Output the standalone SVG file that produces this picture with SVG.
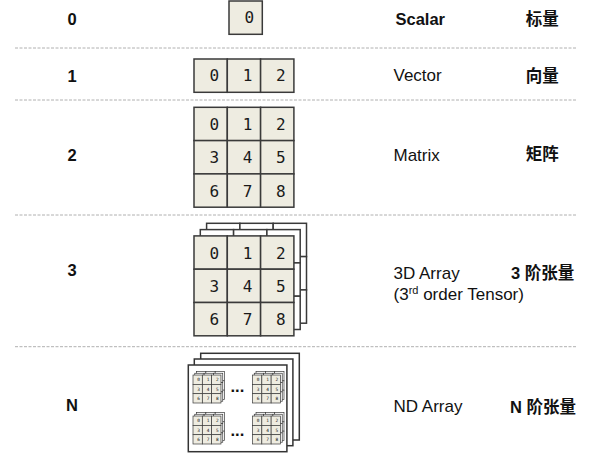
<svg xmlns="http://www.w3.org/2000/svg" xmlns:xlink="http://www.w3.org/1999/xlink" width="610" height="459" viewBox="0 0 610 459">
<style>
.bg{fill:#ffffff}
.cell{stroke:#3a3a3a}
.num{font-family:"DejaVu Sans Mono","Liberation Mono",monospace;font-size:16px;fill:#1a1a1a;text-anchor:middle}
.lbl{font-family:"Liberation Sans","Noto Sans CJK SC",sans-serif;font-size:17px;fill:#111}
.b{font-weight:bold;font-size:16.5px}
.rank{font-family:"Liberation Sans",sans-serif;font-size:16.5px;font-weight:bold;fill:#111;text-anchor:middle}
.sep{stroke:#b0b0b0;stroke-width:1;stroke-dasharray:3 1.5;fill:none}
.frame{fill:#fff;stroke:#333;stroke-width:1.5}
</style>
<defs>
<g id="row3">
<rect class="cell" x="0" y="0" width="33.3" height="33.3"/>
<rect class="cell" x="33.3" y="0" width="33.3" height="33.3"/>
<rect class="cell" x="66.6" y="0" width="33.3" height="33.3"/>
</g>
<g id="grid">
<use xlink:href="#row3" y="0"/>
<use xlink:href="#row3" y="33.3"/>
<use xlink:href="#row3" y="66.6"/>
</g>
<g id="digits9">
<text class="num" x="20.2" y="22.8">0</text>
<text class="num" x="53.5" y="22.8">1</text>
<text class="num" x="86.8" y="22.8">2</text>
<text class="num" x="20.2" y="56.1">3</text>
<text class="num" x="53.5" y="56.1">4</text>
<text class="num" x="86.8" y="56.1">5</text>
<text class="num" x="20.2" y="89.4">6</text>
<text class="num" x="53.5" y="89.4">7</text>
<text class="num" x="86.8" y="89.4">8</text>
</g>
<g id="t3">
<use xlink:href="#grid" x="12.6" y="0" fill="#ffffff"/>
<use xlink:href="#grid" x="6.3" y="6.3" fill="#ffffff"/>
<use xlink:href="#grid" x="0" y="12.6" fill="#EEECE1"/>
<use xlink:href="#digits9" x="0" y="12.6"/>
</g>
</defs>
<rect class="bg" x="0" y="0" width="610" height="459"/>

<g id="separators">
<line class="sep" x1="15" y1="48" x2="577" y2="48"/>
<line class="sep" x1="15" y1="100" x2="577" y2="100"/>
<line class="sep" x1="15" y1="215" x2="577" y2="215"/>
<line class="sep" x1="15" y1="346.7" x2="577" y2="346.7"/>
</g>

<g id="ranks">
<text class="rank" x="72" y="25">0</text>
<text class="rank" x="72" y="81.5">1</text>
<text class="rank" x="72" y="161">2</text>
<text class="rank" x="72" y="276">3</text>
<text class="rank" x="72" y="411">N</text>
</g>

<g id="scalar">
<rect class="cell" x="229" y="1" width="33.3" height="33.3" fill="#EEECE1" stroke-width="1.5"/>
<text class="num" x="249.2" y="23.3">0</text>
</g>

<g id="vector" stroke-width="1.5">
<use xlink:href="#row3" x="194" y="59" fill="#EEECE1"/>
<text class="num" x="214.2" y="81.3">0</text>
<text class="num" x="247.5" y="81.3">1</text>
<text class="num" x="280.8" y="81.3">2</text>
</g>

<g id="matrix" stroke-width="1.5">
<use xlink:href="#grid" x="194" y="107.3" fill="#EEECE1"/>
<use xlink:href="#digits9" x="194" y="107.3"/>
</g>

<g id="array3d" stroke-width="1.5">
<use xlink:href="#t3" transform="translate(194,223.3)"/>
</g>

<g id="arrayNd">
<rect class="frame" x="200.7" y="353.3" width="98.6" height="86.7"/>
<rect class="frame" x="194.3" y="359" width="98.6" height="86.7"/>
<rect class="frame" x="188.3" y="365" width="98.6" height="86.7"/>
<g stroke-width="2.5">
<use xlink:href="#t3" transform="translate(193,371.5) scale(0.28)"/>
<use xlink:href="#t3" transform="translate(252.5,371.5) scale(0.28)"/>
<use xlink:href="#t3" transform="translate(193,412.5) scale(0.28)"/>
<use xlink:href="#t3" transform="translate(252.5,412.5) scale(0.28)"/>
</g>
<text class="lbl b" x="230.5" y="392">...</text>
<text class="lbl b" x="230.5" y="435.5">...</text>
</g>

<g id="names">
<text class="lbl b" x="395.5" y="25">Scalar</text>
<text class="lbl" x="393.5" y="81.3">Vector</text>
<text class="lbl" x="393.5" y="160.5">Matrix</text>
<text class="lbl" x="393.5" y="279">3D Array</text>
<text class="lbl" x="393.5" y="300">(3<tspan font-size="11" dy="-6">rd</tspan><tspan dy="6"> order Tensor)</tspan></text>
<text class="lbl" x="393.5" y="411.5">ND Array</text>
</g>

<g id="chinese">
<text class="lbl b" x="525.7" y="24.5">标量</text>
<text class="lbl b" x="525.7" y="81.5">向量</text>
<text class="lbl b" x="525.7" y="160">矩阵</text>
<text class="lbl b" x="511" y="279">3 阶张量</text>
<text class="lbl b" x="510" y="413">N 阶张量</text>
</g>
</svg>
